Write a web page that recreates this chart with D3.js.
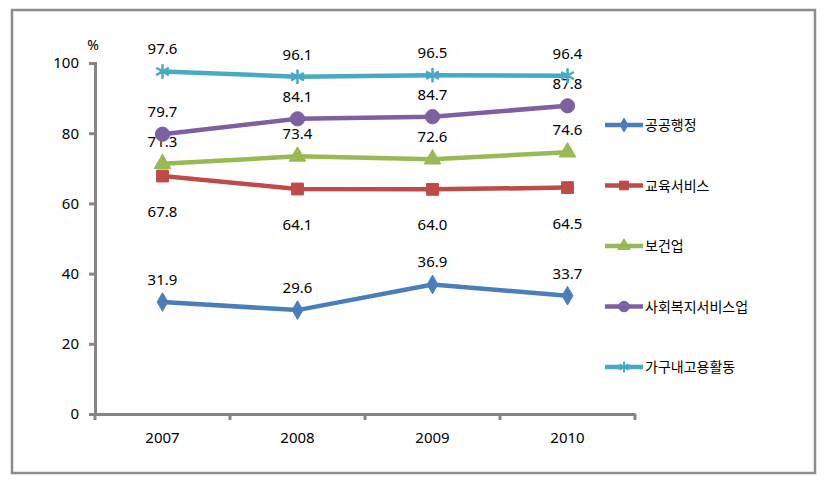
<!DOCTYPE html>
<html><head><meta charset="utf-8">
<script src="https://cdn.jsdelivr.net/npm/d3@7"></script>
<style>body{margin:0;background:#fff}svg{display:block}</style>
</head><body><svg id="c" width="831" height="485"></svg>
<script>
const years = ["2007","2008","2009","2010"];
const seriesNames = ["공공행정","교육서비스","보건업","사회복지서비스업","가구내고용활동"];
const vGong = [31.9,29.6,36.9,33.7];
const vEdu = [67.8,64.1,64.0,64.5];
const vHealth = [71.3,73.4,72.6,74.6];
const vWelfare = [79.7,84.1,84.7,87.8];
const vHouse = [97.6,96.1,96.5,96.4];
const yTicks = [0,20,40,60,80,100];

const colors = ["#4a7ebb","#be4b48","#98b954","#7d60a0","#46aac5"];
const symbols = [d3.symbolDiamond, d3.symbolSquare, d3.symbolTriangle, d3.symbolCircle, d3.symbolAsterisk];
const symSize = [100,140,120,160,150];
const labelBelow = [false,true,false,false,false];
const series = [vGong,vEdu,vHealth,vWelfare,vHouse].map((v,i)=>({name:seriesNames[i],values:v,color:colors[i],sym:symbols[i],size:symSize[i],below:labelBelow[i]}));

const svg = d3.select("#c");
const font = "'Noto Sans','Noto Sans CJK KR',sans-serif";
svg.append("rect").attr("x",12).attr("y",10).attr("width",803).attr("height",463).attr("fill","#fff").attr("stroke","#8c8c8c").attr("stroke-width",2.5);

const x = d3.scaleBand().domain(years).range([95,635]);
const y = d3.scaleLinear().domain([0,100]).range([414,63]);
const grey = "#868686";

const ya = svg.append("g").attr("transform","translate(95,0)")
  .call(d3.axisLeft(y).tickValues(yTicks).tickSize(6).tickPadding(10));
ya.select(".domain").attr("stroke",grey).attr("stroke-width",3);
ya.selectAll(".tick line").attr("stroke",grey).attr("stroke-width",3);
ya.selectAll("text").attr("font-family",font).attr("font-size",15).attr("fill","#000");
const xa = svg.append("g").attr("transform","translate(0,414)")
  .call(d3.axisBottom(x).tickSize(0).tickPadding(18));
xa.select(".domain").attr("stroke",grey).attr("stroke-width",3);
xa.selectAll("text").attr("font-family",font).attr("font-size",15).attr("fill","#000");
const bounds = years.map(d=>x(d)).concat([x.range()[1]]);
svg.append("g").selectAll("line").data(bounds).join("line")
  .attr("x1",d=>d).attr("x2",d=>d).attr("y1",414).attr("y2",420).attr("stroke",grey).attr("stroke-width",3);

svg.append("text").attr("x",93).attr("y",50).attr("text-anchor","middle").attr("font-family",font).attr("font-size",14).text("%");

const cx = d=>x(d)+x.bandwidth()/2;
const line = d3.line().x((d,i)=>cx(years[i])).y(d=>y(d));

series.forEach(s=>{
  const g = svg.append("g");
  g.append("path").attr("d",line(s.values)).attr("fill","none").attr("stroke",s.color).attr("stroke-width",4.5);
  g.selectAll("path.m").data(s.values).join("path").attr("class","m")
    .attr("transform",(d,i)=>`translate(${cx(years[i])},${y(d)})`)
    .attr("d",d3.symbol().type(s.sym).size(s.size))
    .attr("fill",s.color).attr("stroke",s.color).attr("stroke-width",s.sym===d3.symbolAsterisk?2.5:1);
  g.selectAll("text").data(s.values).join("text")
    .attr("x",(d,i)=>cx(years[i])).attr("y",d=>y(d)+(s.below?41:-17))
    .attr("text-anchor","middle").attr("font-family",font).attr("font-size",15).attr("fill","#000")
    .text(d=>d.toFixed(1));
});

const lg = svg.append("g");
series.forEach((s,i)=>{
  const ly = 125+i*60.5;
  lg.append("line").attr("x1",605).attr("x2",643).attr("y1",ly).attr("y2",ly).attr("stroke",s.color).attr("stroke-width",4.5);
  lg.append("path").attr("transform",`translate(624,${ly})`).attr("d",d3.symbol().type(s.sym).size(s.size*0.55))
    .attr("fill",s.color).attr("stroke",s.color).attr("stroke-width",s.sym===d3.symbolAsterisk?2:1);
  lg.append("text").attr("x",645).attr("y",ly+5).attr("font-family","'Noto Sans CJK KR',sans-serif").attr("font-size",14).attr("fill","#000").text(s.name);
});
</script></body></html>
